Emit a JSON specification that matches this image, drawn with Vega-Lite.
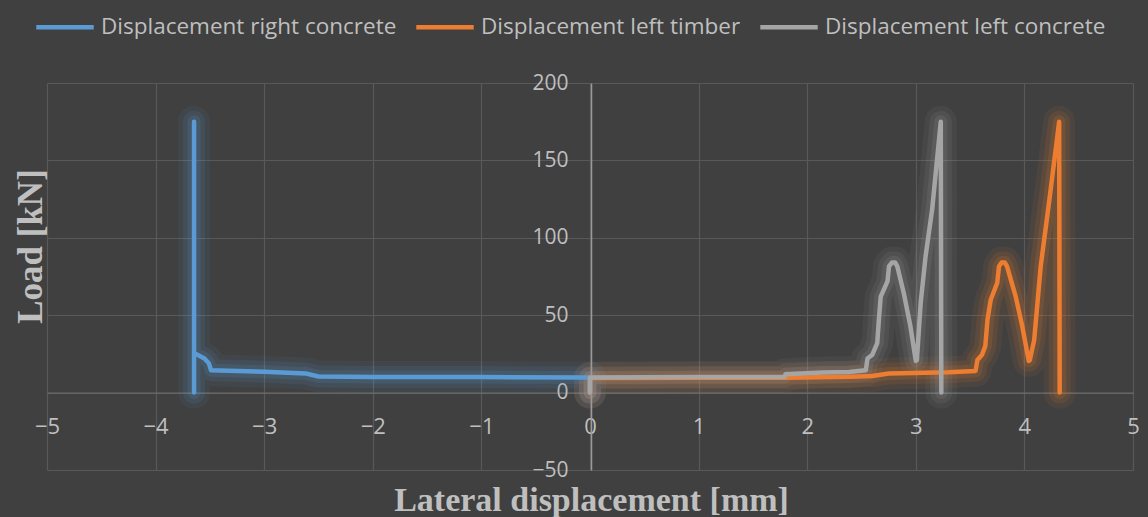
{
  "$schema": "https://vega.github.io/schema/vega-lite/v6.json",
  "width": 1086,
  "height": 387,
  "autosize": "none",
  "padding": {"left": 47, "top": 83, "right": 15, "bottom": 47},
  "background": "#404040",
  "config": {"view": {"stroke": null}, "font": "Open Sans"},
  "data": {"values": [
    {"s": "Displacement right concrete", "i": 0, "x": 0, "y": 0},
    {"s": "Displacement right concrete", "i": 1, "x": 0, "y": 9.8},
    {"s": "Displacement right concrete", "i": 2, "x": -1, "y": 10},
    {"s": "Displacement right concrete", "i": 3, "x": -2, "y": 10.1},
    {"s": "Displacement right concrete", "i": 4, "x": -2.5, "y": 10.4},
    {"s": "Displacement right concrete", "i": 5, "x": -2.62, "y": 12.4},
    {"s": "Displacement right concrete", "i": 6, "x": -3.0, "y": 13.4},
    {"s": "Displacement right concrete", "i": 7, "x": -3.49, "y": 14.5},
    {"s": "Displacement right concrete", "i": 8, "x": -3.51, "y": 19},
    {"s": "Displacement right concrete", "i": 9, "x": -3.55, "y": 22},
    {"s": "Displacement right concrete", "i": 10, "x": -3.646, "y": 25.6},
    {"s": "Displacement right concrete", "i": 11, "x": -3.646, "y": 175},
    {"s": "Displacement right concrete", "i": 12, "x": -3.646, "y": 0},

    {"s": "Displacement left timber", "i": 0, "x": 0, "y": 0},
    {"s": "Displacement left timber", "i": 1, "x": 0, "y": 9.5},
    {"s": "Displacement left timber", "i": 2, "x": 1.0, "y": 9.6},
    {"s": "Displacement left timber", "i": 3, "x": 1.8, "y": 9.6},
    {"s": "Displacement left timber", "i": 4, "x": 2.4, "y": 10.2},
    {"s": "Displacement left timber", "i": 5, "x": 2.6, "y": 10.7},
    {"s": "Displacement left timber", "i": 6, "x": 2.75, "y": 12.4},
    {"s": "Displacement left timber", "i": 7, "x": 3.3, "y": 13.2},
    {"s": "Displacement left timber", "i": 8, "x": 3.55, "y": 14},
    {"s": "Displacement left timber", "i": 9, "x": 3.567, "y": 21},
    {"s": "Displacement left timber", "i": 10, "x": 3.61, "y": 24.5},
    {"s": "Displacement left timber", "i": 11, "x": 3.64, "y": 30},
    {"s": "Displacement left timber", "i": 12, "x": 3.66, "y": 47},
    {"s": "Displacement left timber", "i": 13, "x": 3.69, "y": 60},
    {"s": "Displacement left timber", "i": 14, "x": 3.75, "y": 71},
    {"s": "Displacement left timber", "i": 15, "x": 3.766, "y": 81.5},
    {"s": "Displacement left timber", "i": 16, "x": 3.79, "y": 84},
    {"s": "Displacement left timber", "i": 17, "x": 3.82, "y": 84},
    {"s": "Displacement left timber", "i": 18, "x": 3.84, "y": 81.5},
    {"s": "Displacement left timber", "i": 19, "x": 3.92, "y": 62},
    {"s": "Displacement left timber", "i": 20, "x": 3.98, "y": 43},
    {"s": "Displacement left timber", "i": 21, "x": 4.04, "y": 20.5},
    {"s": "Displacement left timber", "i": 22, "x": 4.05, "y": 21},
    {"s": "Displacement left timber", "i": 23, "x": 4.09, "y": 34},
    {"s": "Displacement left timber", "i": 24, "x": 4.15, "y": 81.5},
    {"s": "Displacement left timber", "i": 25, "x": 4.23, "y": 124.5},
    {"s": "Displacement left timber", "i": 26, "x": 4.32, "y": 175},
    {"s": "Displacement left timber", "i": 27, "x": 4.325, "y": 0},

    {"s": "Displacement left concrete", "i": 0, "x": 0, "y": 0},
    {"s": "Displacement left concrete", "i": 1, "x": 0, "y": 9.8},
    {"s": "Displacement left concrete", "i": 2, "x": 1.0, "y": 10},
    {"s": "Displacement left concrete", "i": 3, "x": 1.79, "y": 10},
    {"s": "Displacement left concrete", "i": 4, "x": 1.8, "y": 11.8},
    {"s": "Displacement left concrete", "i": 5, "x": 2.14, "y": 13},
    {"s": "Displacement left concrete", "i": 6, "x": 2.385, "y": 13.3},
    {"s": "Displacement left concrete", "i": 7, "x": 2.54, "y": 14.5},
    {"s": "Displacement left concrete", "i": 8, "x": 2.555, "y": 22},
    {"s": "Displacement left concrete", "i": 9, "x": 2.6, "y": 24.5},
    {"s": "Displacement left concrete", "i": 10, "x": 2.645, "y": 32},
    {"s": "Displacement left concrete", "i": 11, "x": 2.66, "y": 47},
    {"s": "Displacement left concrete", "i": 12, "x": 2.677, "y": 62},
    {"s": "Displacement left concrete", "i": 13, "x": 2.74, "y": 72},
    {"s": "Displacement left concrete", "i": 14, "x": 2.753, "y": 81.5},
    {"s": "Displacement left concrete", "i": 15, "x": 2.78, "y": 84},
    {"s": "Displacement left concrete", "i": 16, "x": 2.81, "y": 84},
    {"s": "Displacement left concrete", "i": 17, "x": 2.83, "y": 81.5},
    {"s": "Displacement left concrete", "i": 18, "x": 2.89, "y": 64},
    {"s": "Displacement left concrete", "i": 19, "x": 2.95, "y": 43},
    {"s": "Displacement left concrete", "i": 20, "x": 3.0, "y": 20.5},
    {"s": "Displacement left concrete", "i": 21, "x": 3.01, "y": 21},
    {"s": "Displacement left concrete", "i": 22, "x": 3.045, "y": 58},
    {"s": "Displacement left concrete", "i": 23, "x": 3.09, "y": 88},
    {"s": "Displacement left concrete", "i": 24, "x": 3.15, "y": 118},
    {"s": "Displacement left concrete", "i": 25, "x": 3.23, "y": 175},
    {"s": "Displacement left concrete", "i": 26, "x": 3.235, "y": 0}
  ]},
  "encoding": {
    "x": {
      "field": "x", "type": "quantitative",
      "scale": {"domain": [-5, 5], "nice": false, "zero": false},
      "axis": {
        "values": [-5, -4, -3, -2, -1, 0, 1, 2, 3, 4, 5],
        "offset": -77.4,
        "grid": true, "gridColor": "#595959", "gridWidth": 1.2,
        "domain": true, "domainColor": "#6a6a6a", "domainWidth": 1.2,
        "ticks": false, "tickSize": 0,
        "labelFont": "Open Sans", "labelFontSize": 22, "labelColor": "#bfbfbf",
        "labelPadding": 34, "labelBaseline": "middle", "labelFlush": false, "labelOverlap": false,
        "title": "Lateral displacement [mm]",
        "titleFont": "Liberation Serif", "titleFontWeight": "bold", "titleFontSize": 34,
        "titleColor": "#bfbfbf", "titleX": 544, "titleY": 118,
        "titleAlign": "center", "titleBaseline": "alphabetic"
      }
    },
    "y": {
      "field": "y", "type": "quantitative",
      "scale": {"domain": [-50, 200], "nice": false, "zero": false},
      "axis": {
        "values": [-50, 0, 50, 100, 150, 200],
        "offset": -544,
        "grid": true, "gridColor": "#595959", "gridWidth": 1.2,
        "domain": true, "domainColor": "#9a9a9a", "domainWidth": 1.5,
        "ticks": false, "tickSize": 0,
        "labelFont": "Open Sans", "labelFontSize": 21, "labelColor": "#bfbfbf",
        "labelPadding": 23, "labelFlush": false, "labelOverlap": false,
        "title": "Load [kN]",
        "titleFont": "Liberation Serif", "titleFontWeight": "bold", "titleFontSize": 35,
        "titleColor": "#bfbfbf", "titleX": -550, "titleY": 163, "titleAngle": -90,
        "titleAlign": "center", "titleBaseline": "alphabetic"
      }
    },
    "color": {
      "field": "s", "type": "nominal",
      "scale": {
        "domain": ["Displacement right concrete", "Displacement left timber", "Displacement left concrete"],
        "range": ["#5B9BD5", "#ED7D31", "#A5A5A5"]
      },
      "legend": {
        "title": null, "orient": "none", "direction": "horizontal",
        "legendX": -13, "legendY": -87,
        "symbolType": "stroke", "symbolSize": 3300, "symbolStrokeWidth": 4.5, "symbolOpacity": 1,
        "labelFont": "Open Sans", "labelFontSize": 22.5, "labelColor": "#bfbfbf", "labelLimit": 400,
        "labelOffset": 5, "columnPadding": 10
      }
    },
    "order": {"field": "i", "type": "quantitative"}
  },
  "layer": [
    {"mark": {"type": "line", "strokeWidth": 32, "opacity": 0.07, "strokeJoin": "round", "strokeCap": "round"}},
    {"mark": {"type": "line", "strokeWidth": 22, "opacity": 0.1, "strokeJoin": "round", "strokeCap": "round"}},
    {"mark": {"type": "line", "strokeWidth": 13, "opacity": 0.14, "strokeJoin": "round", "strokeCap": "round"}},
    {"transform": [{"filter": "datum.s != 'Displacement left concrete'"}],
     "mark": {"type": "line", "strokeWidth": 4.5, "strokeJoin": "round", "strokeCap": "round"}},
    {"transform": [{"filter": "datum.s == 'Displacement left concrete'"}],
     "mark": {"type": "line", "strokeWidth": 4.5, "strokeJoin": "round", "strokeCap": "round"}}
  ]
}
